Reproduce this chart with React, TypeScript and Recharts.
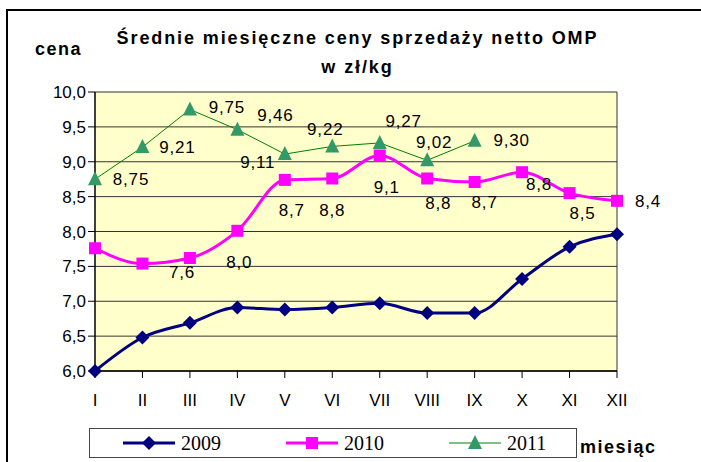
import { LineChart, Line, XAxis, YAxis, CartesianGrid, ReferenceLine, LabelList } from "recharts";

const months = ["I", "II", "III", "IV", "V", "VI", "VII", "VIII", "IX", "X", "XI", "XII"];
const y2009 = [6.0, 6.48, 6.69, 6.91, 6.88, 6.91, 6.97, 6.83, 6.83, 7.32, 7.78, 7.96];
const y2010 = [7.76, 7.54, 7.62, 8.01, 8.74, 8.76, 9.09, 8.76, 8.71, 8.85, 8.55, 8.44];
const y2011 = [8.75, 9.21, 9.75, 9.46, 9.11, 9.22, 9.27, 9.02, 9.3, null, null, null];
const lbl2010 = [null, null, "7,6", "8,0", "8,7", "8,8", "9,1", "8,8", "8,7", "8,8", "8,5", "8,4"];
const lbl2011 = ["8,75", "9,21", "9,75", "9,46", "9,11", "9,22", "9,27", "9,02", "9,30", null, null, null];
const yTicks = [6, 6.5, 7, 7.5, 8, 8.5, 9, 9.5, 10];

// label nudges (Excel labels were dragged by hand)
const off2010 = [[0, 0], [0, 0], [-8, 14], [2, 32], [7, 31], [0, 32], [7, 32], [11, 25], [10, 21], [17, 12], [13, 20], [31, 1]];
const off2011 = [[36, 0], [35, 0], [37, -2], [38, -14], [-27, 8], [-7, -17], [24, -21], [7, -18], [37, 0]];

const data = months.map((m, i) => ({
  m,
  a: y2009[i],
  b: y2010[i],
  c: y2011[i],
  lb: lbl2010[i],
  lc: lbl2011[i],
}));

const FONT = '"Liberation Sans", Arial, sans-serif';

const Diamond = ({ cx, cy, fill, size = 7 }: any) =>
  cx == null || cy == null ? null : (
    <polygon points={`${cx},${cy - size} ${cx + size},${cy} ${cx},${cy + size} ${cx - size},${cy}`} fill={fill} />
  );
const Square = ({ cx, cy, fill, size = 6 }: any) =>
  cx == null || cy == null ? null : <rect x={cx - size} y={cy - size} width={size * 2} height={size * 2} fill={fill} />;
const Triangle = ({ cx, cy, fill, size = 7 }: any) =>
  cx == null || cy == null ? null : (
    <polygon points={`${cx},${cy - size - 1} ${cx + size},${cy + size - 1} ${cx - size},${cy + size - 1}`} fill={fill} />
  );

const makeLabel = (offs: number[][]) => (p: any) => {
  if (p.value == null || p.value === "") return null;
  const o = offs[p.index] || [0, 0];
  return (
    <text
      x={p.x + o[0]}
      y={p.y + o[1]}
      textAnchor="middle"
      dominantBaseline="central"
      fontFamily={FONT}
      fontSize={17}
      letterSpacing={0.8}
      fill="#000"
    >
      {p.value}
    </text>
  );
};

const legend = [
  { name: "2009", color: "#000080", Mark: Diamond, w: 3 },
  { name: "2010", color: "#FF00FF", Mark: Square, w: 3 },
  { name: "2011", color: "#008000", Mark: Triangle, w: 1, mc: "#339966" },
];

export default function App() {
  return (
    <div style={{ position: "absolute", left: 0, top: 0, width: 701, height: 462, background: "#fff", overflow: "hidden", fontFamily: FONT }}>
      <div style={{ position: "absolute", left: 6, top: 9, width: 720, height: 480, borderLeft: "2px solid #000", borderTop: "2px solid #000" }} />
      <div style={{ position: "absolute", left: 0, width: 715, top: 24, textAlign: "center", fontWeight: "bold", fontSize: 18, letterSpacing: 1.9, lineHeight: "29px" }}>
        Średnie miesięczne ceny sprzedaży netto OMP
        <br />w zł/kg
      </div>
      <div style={{ position: "absolute", left: 35, top: 39, fontWeight: "bold", fontSize: 18, letterSpacing: 1.5 }}>cena</div>
      <div style={{ position: "absolute", left: 580, top: 437, fontWeight: "bold", fontSize: 18, letterSpacing: 1.5 }}>miesiąc</div>

      <div style={{ position: "absolute", left: 0, top: 0 }}>
        <LineChart width={701} height={462} data={data} margin={{ top: 92, right: 84, left: 0, bottom: 51 }}>
          <CartesianGrid vertical={false} fill="#FFFFCC" stroke="#333" strokeWidth={1} />
          <XAxis
            dataKey="m"
            tickLine={{ stroke: "#000" }}
            tickSize={7}
            axisLine={{ stroke: "#000", strokeWidth: 1.5 }}
            tick={{ fontFamily: FONT, fontSize: 17, fill: "#000", dy: 14 }}
            height={40}
            interval={0}
          />
          <YAxis
            domain={[6, 10]}
            ticks={yTicks}
            width={95}
            tickSize={7}
            tickLine={{ stroke: "#000" }}
            axisLine={{ stroke: "#000", strokeWidth: 1.5 }}
            tick={{ fontFamily: FONT, fontSize: 17, fill: "#000" }}
            tickFormatter={(v: number) => v.toFixed(1).replace(".", ",")}
          />
          <ReferenceLine x="XII" stroke="#333" strokeWidth={1} />
          <Line
            type="monotone"
            dataKey="a"
            stroke="#000080"
            strokeWidth={3}
            dot={(p: any) => <Diamond key={`a${p.index}`} cx={p.cx} cy={p.cy} fill="#000080" />}
            isAnimationActive={false}
          />
          <Line
            type="monotone"
            dataKey="b"
            stroke="#FF00FF"
            strokeWidth={3}
            dot={(p: any) => <Square key={`b${p.index}`} cx={p.cx} cy={p.cy} fill="#FF00FF" />}
            isAnimationActive={false}
          >
            <LabelList dataKey="lb" content={makeLabel(off2010)} />
          </Line>
          <Line
            type="linear"
            dataKey="c"
            stroke="#008000"
            strokeWidth={1}
            dot={(p: any) => <Triangle key={`c${p.index}`} cx={p.cx} cy={p.cy} fill="#339966" />}
            isAnimationActive={false}
            connectNulls={false}
          >
            <LabelList dataKey="lc" content={makeLabel(off2011)} />
          </Line>
        </LineChart>
      </div>

      <div
        style={{
          position: "absolute",
          left: 89,
          top: 428,
          width: 488,
          height: 30,
          border: "1.5px solid #444",
          background: "#fff",
          display: "flex",
          alignItems: "center",
          paddingLeft: 33,
          boxSizing: "border-box",
        }}
      >
        {legend.map((s) => (
          <div key={s.name} style={{ width: 163, display: "flex", alignItems: "center", flexShrink: 0 }}>
            <svg width={54} height={20}>
              <line x1={0} y1={10} x2={52} y2={10} stroke={s.color} strokeWidth={s.w} />
              <s.Mark cx={26} cy={10} fill={s.mc || s.color} />
            </svg>
            <span style={{ fontFamily: '"Liberation Serif", "Times New Roman", serif', fontSize: 20, marginLeft: 4 }}>{s.name}</span>
          </div>
        ))}
      </div>
    </div>
  );
}
